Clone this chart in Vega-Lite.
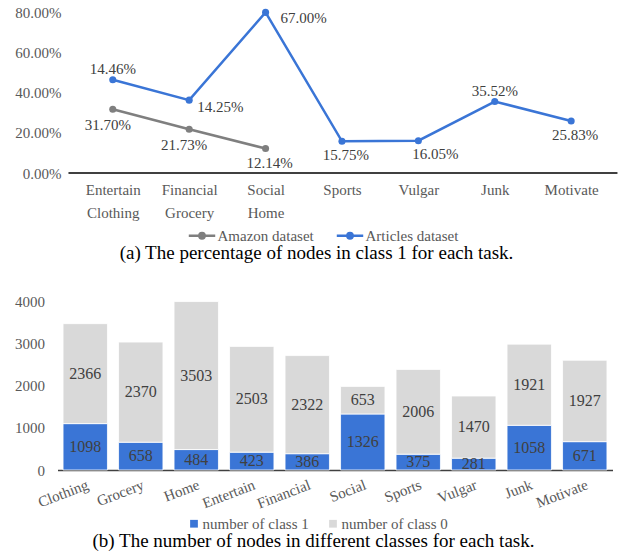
{
  "$schema": "https://vega.github.io/schema/vega-lite/v6.json",
  "padding": {"left": 14.5, "top": 5, "right": 0, "bottom": 0},
  "spacing": 31,
  "columns": 1,
  "align": "none",
  "resolve": {"scale": {"color": "independent"}, "legend": {"color": "independent"}},
  "config": {
    "view": {"stroke": null},
    "font": "Liberation Serif",
    "axis": {"labelFont": "Liberation Serif", "labelColor": "#595959", "labelFontSize": 15, "ticks": false, "grid": false, "title": null},
    "legend": {"labelFont": "Liberation Serif", "labelColor": "#595959", "labelFontSize": 15, "title": null},
    "title": {"font": "Liberation Serif", "fontSize": 19, "fontWeight": "normal", "color": "#000000"}
  },
  "datasets": {
    "pct": [
      {"task": "Entertain|Clothing", "dataset": "Amazon dataset", "value": 0.3170, "label": "31.70%"},
      {"task": "Financial|Grocery", "dataset": "Amazon dataset", "value": 0.2173, "label": "21.73%"},
      {"task": "Social|Home", "dataset": "Amazon dataset", "value": 0.1214, "label": "12.14%"},
      {"task": "Entertain|Clothing", "dataset": "Articles dataset", "value": 0.463, "label": "14.46%"},
      {"task": "Financial|Grocery", "dataset": "Articles dataset", "value": 0.362, "label": "14.25%"},
      {"task": "Social|Home", "dataset": "Articles dataset", "value": 0.798, "label": "67.00%"},
      {"task": "Sports", "dataset": "Articles dataset", "value": 0.1575, "label": "15.75%"},
      {"task": "Vulgar", "dataset": "Articles dataset", "value": 0.1605, "label": "16.05%"},
      {"task": "Junk", "dataset": "Articles dataset", "value": 0.3552, "label": "35.52%"},
      {"task": "Motivate", "dataset": "Articles dataset", "value": 0.2583, "label": "25.83%"}
    ],
    "counts": [
      {"task": "Clothing", "class": "number of class 1", "count": 1098},
      {"task": "Clothing", "class": "number of class 0", "count": 2366},
      {"task": "Grocery", "class": "number of class 1", "count": 658},
      {"task": "Grocery", "class": "number of class 0", "count": 2370},
      {"task": "Home", "class": "number of class 1", "count": 484},
      {"task": "Home", "class": "number of class 0", "count": 3503},
      {"task": "Entertain", "class": "number of class 1", "count": 423},
      {"task": "Entertain", "class": "number of class 0", "count": 2503},
      {"task": "Financial", "class": "number of class 1", "count": 386},
      {"task": "Financial", "class": "number of class 0", "count": 2322},
      {"task": "Social", "class": "number of class 1", "count": 1326},
      {"task": "Social", "class": "number of class 0", "count": 653},
      {"task": "Sports", "class": "number of class 1", "count": 375},
      {"task": "Sports", "class": "number of class 0", "count": 2006},
      {"task": "Vulgar", "class": "number of class 1", "count": 281},
      {"task": "Vulgar", "class": "number of class 0", "count": 1470},
      {"task": "Junk", "class": "number of class 1", "count": 1058},
      {"task": "Junk", "class": "number of class 0", "count": 1921},
      {"task": "Motivate", "class": "number of class 1", "count": 671},
      {"task": "Motivate", "class": "number of class 0", "count": 1927}
    ]
  },
  "concat": [
    {
      "width": 560,
      "height": 161,
      "data": {"name": "pct"},
      "title": {"text": "(a)  The percentage of nodes in class 1 for each task.", "orient": "bottom", "anchor": "middle", "frame": "bounds", "offset": 0},
      "encoding": {
        "x": {"field": "task", "type": "nominal", "sort": ["Entertain|Clothing", "Financial|Grocery", "Social|Home", "Sports", "Vulgar", "Junk", "Motivate"],
              "scale": {"type": "point", "padding": 0.665, "align": 0.544},
              "axis": {"labelAngle": 0, "labelAlign": "center", "labelBaseline": "top", "labelPadding": 9, "labelLineHeight": 23, "labelExpr": "split(datum.value, '|')", "domain": false}},
        "y": {"field": "value", "type": "quantitative", "scale": {"domain": [0, 0.8]},
              "axis": {"format": ".2%", "values": [0, 0.2, 0.4, 0.6, 0.8], "domain": false, "labelPadding": -3.5}}
      },
      "layer": [
        {
          "transform": [{"filter": "datum.label == '15.75%'"}],
          "mark": {"type": "rule", "color": "#000000", "strokeWidth": 1.5, "xOffset": -44.3, "x2Offset": 46.3},
          "encoding": {
            "x": {"datum": "Entertain|Clothing"},
            "x2": {"datum": "Motivate"},
            "y": {"datum": 0}
          }
        },
        {
          "mark": {"type": "line", "strokeWidth": 2.5, "point": {"filled": true, "size": 50}},
          "encoding": {
            "color": {"field": "dataset", "type": "nominal",
                      "scale": {"domain": ["Amazon dataset", "Articles dataset"], "range": ["#7F7F7F", "#3A75D6"]},
                      "legend": {"orient": "none", "legendX": 130, "legendY": 209, "direction": "horizontal",
                                 "symbolType": "M-1,0L1,0M-0.2,0A0.2,0.2,0,1,1,0.2,0A0.2,0.2,0,1,1,-0.2,0M-0.08,0A0.08,0.08,0,1,1,0.08,0A0.08,0.08,0,1,1,-0.08,0",
                                 "symbolSize": 700, "symbolStrokeWidth": 2.5, "labelOffset": 1, "columnPadding": 17}}
          }
        },
        {
          "transform": [{"filter": "datum.dataset == 'Articles dataset' && (datum.task == 'Entertain|Clothing' || datum.task == 'Junk')"}],
          "mark": {"type": "text", "dy": -11, "dx": 0, "fontSize": 15, "color": "#404040"},
          "encoding": {"text": {"field": "label"}}
        },
        {
          "transform": [{"filter": "datum.dataset == 'Amazon dataset' && datum.task != 'Social|Home'"}],
          "mark": {"type": "text", "dy": 16, "dx": -5, "fontSize": 15, "color": "#404040"},
          "encoding": {"text": {"field": "label"}}
        },
        {
          "transform": [{"filter": "(datum.dataset == 'Amazon dataset' && datum.task == 'Social|Home') || datum.task == 'Sports' || datum.task == 'Motivate'"}],
          "mark": {"type": "text", "dy": 14, "dx": 4, "fontSize": 15, "color": "#404040"},
          "encoding": {"text": {"field": "label"}}
        },
        {
          "transform": [{"filter": "datum.task == 'Vulgar'"}],
          "mark": {"type": "text", "dy": 13, "dx": 17, "fontSize": 15, "color": "#404040"},
          "encoding": {"text": {"field": "label"}}
        },
        {
          "transform": [{"filter": "datum.dataset == 'Articles dataset' && datum.task == 'Financial|Grocery'"}],
          "mark": {"type": "text", "dy": 7, "dx": 8, "align": "left", "fontSize": 15, "color": "#404040"},
          "encoding": {"text": {"field": "label"}}
        },
        {
          "transform": [{"filter": "datum.dataset == 'Articles dataset' && datum.task == 'Social|Home'"}],
          "mark": {"type": "text", "dy": 6, "dx": 15, "align": "left", "fontSize": 15, "color": "#404040"},
          "encoding": {"text": {"field": "label"}}
        }
      ]
    },
    {
      "width": 555,
      "height": 169,
      "data": {"name": "counts"},
      "title": {"text": "(b)  The number of nodes in different classes for each task.", "orient": "bottom", "anchor": "middle", "frame": "bounds", "offset": 0},
      "transform": [
        {"stack": "count", "groupby": ["task"], "sort": [{"field": "class", "order": "descending"}], "as": ["c0", "c1"]},
        {"calculate": "(datum.c0 + datum.c1) / 2", "as": "cmid"}
      ],
      "encoding": {
        "x": {"field": "task", "type": "nominal", "sort": null,
              "scale": {"paddingInner": 0.2, "paddingOuter": 0.1},
              "axis": {"labelAngle": -21, "labelAlign": "right", "labelBaseline": "top", "labelPadding": 7, "domainColor": "#404040", "domainWidth": 1.5}}
      },
      "layer": [
        {
          "mark": {"type": "bar", "stroke": "#ffffff", "strokeWidth": 0.8},
          "encoding": {
            "y": {"field": "c0", "type": "quantitative", "scale": {"domain": [0, 4000]},
                  "axis": {"values": [0, 1000, 2000, 3000, 4000], "format": "d", "domain": false, "labelPadding": 13}},
            "y2": {"field": "c1"},
            "color": {"field": "class", "type": "nominal",
                      "scale": {"domain": ["number of class 1", "number of class 0"], "range": ["#3A75D6", "#D9D9D9"]},
                      "legend": {"orient": "none", "legendX": 129, "legendY": 215, "direction": "horizontal", "symbolType": "square", "symbolSize": 60, "symbolStrokeWidth": 0, "labelOffset": 1, "columnPadding": 16}}
          }
        },
        {
          "mark": {"type": "text", "fontSize": 16, "color": "#404040"},
          "encoding": {
            "y": {"field": "cmid", "type": "quantitative"},
            "text": {"field": "count", "type": "quantitative"}
          }
        }
      ]
    }
  ]
}
